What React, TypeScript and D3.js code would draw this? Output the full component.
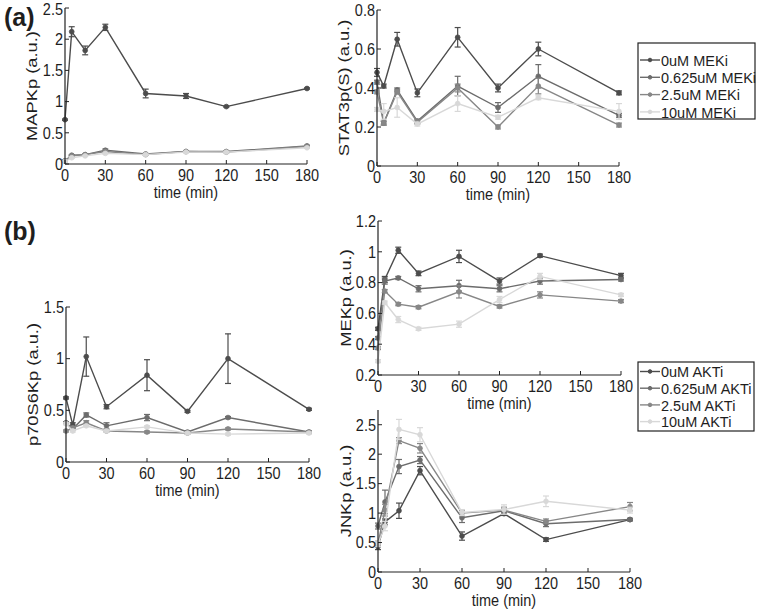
import React from 'react';
import * as d3 from 'd3';

// ---------- data ----------
const times = [0, 5, 15, 30, 60, 90, 120, 180];
const xTicks = [0, 30, 60, 90, 120, 150, 180];
const mekLabels = ['0uM MEKi', '0.625uM MEKi', '2.5uM MEKi', '10uM MEKi'];
const aktLabels = ['0uM AKTi', '0.625uM AKTi', '2.5uM AKTi', '10uM AKTi'];

// MAPKp (a.u.) – MEK inhibitor
const mapk0 = [0.71, 2.12, 1.82, 2.19, 1.13, 1.09, 0.92, 1.21];
const mapk0Err = [0.01, 0.08, 0.07, 0.05, 0.07, 0.04, 0.01, 0.01];
const mapk1 = [0.05, 0.14, 0.15, 0.22, 0.16, 0.2, 0.2, 0.29];
const mapk1Err = [0.01, 0.01, 0.01, 0.02, 0.01, 0.01, 0.01, 0.01];
const mapk2 = [0.05, 0.13, 0.15, 0.2, 0.15, 0.2, 0.19, 0.28];
const mapk2Err = [0.01, 0.01, 0.01, 0.01, 0.01, 0.01, 0.01, 0.01];
const mapk3 = [0.04, 0.1, 0.13, 0.17, 0.15, 0.19, 0.19, 0.26];
const mapk3Err = [0.01, 0.01, 0.01, 0.01, 0.01, 0.01, 0.01, 0.01];

// STAT3p(S) (a.u.) – MEK inhibitor
const stat0 = [0.48, 0.41, 0.65, 0.375, 0.66, 0.4, 0.6, 0.375];
const stat0Err = [0.02, 0.01, 0.035, 0.02, 0.05, 0.02, 0.035, 0.01];
const stat1 = [0.43, 0.22, 0.39, 0.23, 0.41, 0.3, 0.46, 0.26];
const stat1Err = [0.01, 0.01, 0.01, 0.01, 0.05, 0.025, 0.06, 0.01];
const stat2 = [0.38, 0.22, 0.38, 0.225, 0.4, 0.2, 0.41, 0.21];
const stat2Err = [0.01, 0.01, 0.01, 0.01, 0.02, 0.01, 0.04, 0.01];
const stat3 = [0.29, 0.28, 0.3, 0.215, 0.32, 0.25, 0.35, 0.28];
const stat3Err = [0.01, 0.04, 0.05, 0.01, 0.04, 0.01, 0.01, 0.04];

// p70S6Kp (a.u.) – AKT inhibitor
const p70s0 = [0.62, 0.36, 1.02, 0.535, 0.84, 0.49, 1.0, 0.51];
const p70s0Err = [0.01, 0.02, 0.19, 0.02, 0.15, 0.01, 0.24, 0.01];
const p70s1 = [0.38, 0.32, 0.455, 0.35, 0.43, 0.29, 0.43, 0.29];
const p70s1Err = [0.01, 0.01, 0.02, 0.03, 0.03, 0.01, 0.01, 0.01];
const p70s2 = [0.3, 0.33, 0.38, 0.3, 0.29, 0.28, 0.32, 0.29];
const p70s2Err = [0.01, 0.01, 0.02, 0.01, 0.01, 0.01, 0.01, 0.01];
const p70s3 = [0.37, 0.3, 0.35, 0.3, 0.34, 0.28, 0.27, 0.28];
const p70s3Err = [0.01, 0.01, 0.01, 0.01, 0.01, 0.01, 0.01, 0.01];

// MEKp (a.u.) – AKT inhibitor
const mek0 = [0.5, 0.82, 1.01, 0.86, 0.97, 0.81, 0.975, 0.845];
const mek0Err = [0.01, 0.02, 0.02, 0.015, 0.04, 0.02, 0.01, 0.015];
const mek1 = [0.44, 0.81, 0.83, 0.76, 0.78, 0.76, 0.81, 0.82];
const mek1Err = [0.01, 0.02, 0.01, 0.02, 0.035, 0.02, 0.02, 0.01];
const mek2 = [0.375, 0.745, 0.66, 0.64, 0.74, 0.645, 0.72, 0.68];
const mek2Err = [0.01, 0.01, 0.01, 0.01, 0.04, 0.01, 0.02, 0.01];
const mek3 = [0.29, 0.67, 0.56, 0.5, 0.53, 0.69, 0.84, 0.72];
const mek3Err = [0.01, 0.01, 0.02, 0.01, 0.02, 0.02, 0.02, 0.01];

// JNKp (a.u.) – AKT inhibitor
const jnk0 = [0.43, 0.85, 1.04, 1.72, 0.61, 0.99, 0.55, 0.89];
const jnk0Err = [0.05, 0.05, 0.13, 0.07, 0.07, 0.03, 0.03, 0.02];
const jnk1 = [0.78, 1.19, 1.79, 1.9, 0.92, 1.04, 0.82, 0.89];
const jnk1Err = [0.05, 0.2, 0.12, 0.06, 0.08, 0.03, 0.05, 0.02];
const jnk2 = [0.48, 1.05, 2.23, 2.1, 1.0, 1.05, 0.86, 1.11];
const jnk2Err = [0.05, 0.1, 0.05, 0.08, 0.05, 0.05, 0.04, 0.07];
const jnk3 = [0.48, 0.78, 2.42, 2.33, 1.01, 1.06, 1.2, 1.05];
const jnk3Err = [0.05, 0.08, 0.17, 0.12, 0.05, 0.08, 0.09, 0.05];

const mapkTicks = [0, 0.5, 1, 1.5, 2, 2.5];
const statTicks = [0, 0.2, 0.4, 0.6, 0.8];
const p70Ticks = [0, 0.5, 1, 1.5];
const mekTicks = [0.2, 0.4, 0.6, 0.8, 1, 1.2];
const jnkTicks = [0, 0.5, 1, 1.5, 2, 2.5];

// ---------- styles ----------
const colors = ['#4c4c4c', '#6c6c6c', '#878787', '#d8d8d8'];
const TXT = '#1e1e1e';
const FONT = "'Liberation Sans', Arial, Helvetica, sans-serif";
const FS = 14.5;
const SY = 1.12; // vertical stretch of glyphs in the reference

type S = { v: number[]; e: number[] };

function HText({ x, y, children, anchor = 'middle', size = FS, weight = 'normal', sy = SY }: any) {
  return (
    <text
      transform={`translate(${x},${y}) scale(1,${sy})`}
      textAnchor={anchor}
      dominantBaseline="central"
      fontFamily={FONT}
      fontSize={size}
      fontWeight={weight}
      fill={TXT}
    >
      {children}
    </text>
  );
}

function VText({ x, y, children }: any) {
  return (
    <text
      transform={`translate(${x},${y}) rotate(-90) scale(1.22,1)`}
      textAnchor="middle"
      dominantBaseline="central"
      fontFamily={FONT}
      fontSize={15}
      fill={TXT}
    >
      {children}
    </text>
  );
}

function Panel(props: {
  x0: number; x1: number; yTop: number; yBot: number;
  domain: [number, number]; yTicks: number[]; ylabel: string; ylabelX: number;
  series: S[];
}) {
  const { x0, x1, yTop, yBot, domain, yTicks, ylabel, ylabelX, series } = props;
  const x = d3.scaleLinear().domain([0, 180]).range([x0, x1]);
  const y = d3.scaleLinear().domain(domain).range([yBot, yTop]);
  const line = d3.line<number>().x((_, i) => x(times[i])).y((d) => y(d));
  const tk = 4;
  return (
    <g>
      {series.map((s, si) => (
        <g key={si} stroke={colors[si]} fill="none">
          <path d={line(s.v) || ''} strokeWidth={1.4} />
          {s.v.map((v, i) => {
            const cx = x(times[i]);
            const ya = y(v + s.e[i]);
            const yb = y(v - s.e[i]);
            return (
              <g key={i}>
                <line x1={cx} x2={cx} y1={ya} y2={yb} strokeWidth={1.2} />
                <line x1={cx - 3} x2={cx + 3} y1={ya} y2={ya} strokeWidth={1.2} />
                <line x1={cx - 3} x2={cx + 3} y1={yb} y2={yb} strokeWidth={1.2} />
                <circle cx={cx} cy={y(v)} r={2.4} fill={colors[si]} strokeWidth={0.8} />
              </g>
            );
          })}
        </g>
      ))}
      {/* axes */}
      <line x1={x0} x2={x0} y1={yTop} y2={yBot} stroke="#222" strokeWidth={1.2} />
      <line x1={x0} x2={x1} y1={yBot} y2={yBot} stroke="#222" strokeWidth={1.2} />
      {xTicks.map((t) => (
        <g key={'x' + t}>
          <line x1={x(t)} x2={x(t)} y1={yBot} y2={yBot - tk} stroke="#222" strokeWidth={1} />
          <HText x={x(t)} y={yBot + 11}>{String(t)}</HText>
        </g>
      ))}
      {yTicks.map((t) => (
        <g key={'y' + t}>
          <line x1={x0} x2={x0 + tk} y1={y(t)} y2={y(t)} stroke="#222" strokeWidth={1} />
          <HText x={x0 - 2} y={Math.max(y(t), 9)} anchor="end">{String(t)}</HText>
        </g>
      ))}
      <HText x={(x0 + x1) / 2} y={yBot + 28.5}>time (min)</HText>
      <VText x={ylabelX} y={(yTop + yBot) / 2}>{ylabel}</VText>
    </g>
  );
}

function Legend({ x, y, w, h, labels, step, first }: any) {
  return (
    <g>
      <rect x={x} y={y} width={w} height={h} fill="#fff" stroke="#222" strokeWidth={1.2} />
      {labels.map((l: string, i: number) => {
        const yy = y + first + i * step;
        return (
          <g key={l}>
            <line x1={x + 2} x2={x + 22} y1={yy} y2={yy} stroke={colors[i]} strokeWidth={1.4} />
            <circle cx={x + 12} cy={yy} r={1.8} fill={colors[i]} stroke={colors[i]} />
            <HText x={x + 23} y={yy} anchor="start" size={14.5} sy={1.06}>{l}</HText>
          </g>
        );
      })}
    </g>
  );
}

export default function App() {
  const mk = (v: number[][], e: number[][]): S[] => v.map((vv, i) => ({ v: vv, e: e[i] }));
  return (
    <svg width={758} height={610} style={{ position: 'absolute', left: 0, top: 0, background: '#fff' }}>
      <rect width={758} height={610} fill="#fff" />
      <HText x={4} y={17} anchor="start" size={25} weight="bold" sy={1}>(a)</HText>
      <HText x={4} y={231} anchor="start" size={25} weight="bold" sy={1}>(b)</HText>

      <Panel x0={65} x1={307} yTop={8} yBot={164} domain={[0, 2.5]} yTicks={mapkTicks}
        ylabel="MAPKp (a.u.)" ylabelX={32}
        series={mk([mapk0, mapk1, mapk2, mapk3], [mapk0Err, mapk1Err, mapk2Err, mapk3Err])} />
      <Panel x0={377} x1={619} yTop={10} yBot={166} domain={[0, 0.8]} yTicks={statTicks}
        ylabel="STAT3p(S) (a.u.)" ylabelX={344}
        series={mk([stat0, stat1, stat2, stat3], [stat0Err, stat1Err, stat2Err, stat3Err])} />
      <Legend x={638} y={43} w={117} h={76} labels={mekLabels} step={17.3} first={17} />

      <Panel x0={66} x1={309} yTop={307} yBot={462} domain={[0, 1.5]} yTicks={p70Ticks}
        ylabel="p70S6Kp (a.u.)" ylabelX={33}
        series={mk([p70s0, p70s1, p70s2, p70s3], [p70s0Err, p70s1Err, p70s2Err, p70s3Err])} />
      <Panel x0={378} x1={621} yTop={221} yBot={375} domain={[0.2, 1.2]} yTicks={mekTicks}
        ylabel="MEKp (a.u.)" ylabelX={346}
        series={mk([mek0, mek1, mek2, mek3], [mek0Err, mek1Err, mek2Err, mek3Err])} />
      <Panel x0={378} x1={630} yTop={410} yBot={572} domain={[0, 2.75]} yTicks={jnkTicks}
        ylabel="JNKp (a.u.)" ylabelX={346}
        series={mk([jnk0, jnk1, jnk2, jnk3], [jnk0Err, jnk1Err, jnk2Err, jnk3Err])} />
      <Legend x={638} y={362} w={116} h={69} labels={aktLabels} step={16.7} first={9.5} />
    </svg>
  );
}
